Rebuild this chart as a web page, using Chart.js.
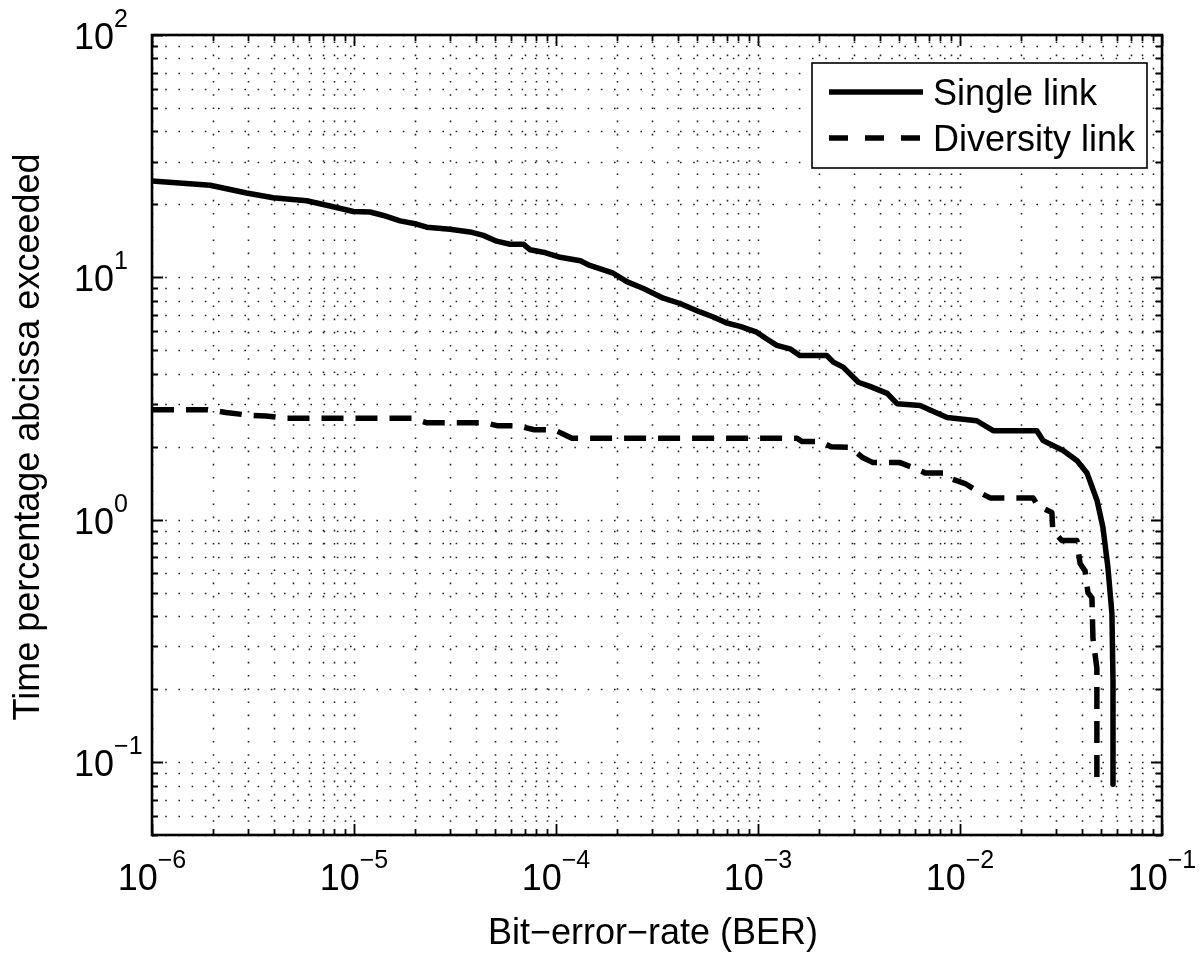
<!DOCTYPE html>
<html>
<head>
<meta charset="utf-8">
<script src="https://cdn.jsdelivr.net/npm/chart.js@4.4.1/dist/chart.umd.min.js"></script>
<style>
  html, body { margin: 0; padding: 0; background: #fff; }
  #wrap { width: 1200px; height: 959px; }
</style>
</head>
<body>
<div id="wrap"><canvas id="berChart"></canvas></div>
<script>
// --- data ---
const seriesNames = ['Single link', 'Diversity link'];

const singleBer = [1e-6, 1.94e-6, 2.94e-6, 3.98e-6, 5.83e-6, 7.61e-6, 9.93e-6, 1.2e-5, 1.4e-5, 1.69e-5,
  2.04e-5, 2.29e-5, 2.99e-5, 3.75e-5, 4.37e-5, 5.08e-5, 5.92e-5, 6.89e-5, 7.43e-5, 8.65e-5,
  1.05e-4, 1.32e-4, 1.47e-4, 1.92e-4, 2.24e-4, 2.71e-4, 3.4e-4, 4.11e-4, 5.16e-4, 6.01e-4,
  7.0e-4, 8.15e-4, 9.86e-4, 1.1e-3, 1.24e-3, 1.44e-3, 1.61e-3, 2.19e-3, 2.36e-3, 2.64e-3,
  3.14e-3, 3.58e-3, 4.36e-3, 4.88e-3, 6.34e-3, 8.63e-3, 1.21e-2, 1.46e-2, 2.4e-2, 2.58e-2,
  3.24e-2, 3.8e-2, 4.25e-2, 4.77e-2, 5.1e-2, 5.4e-2, 5.65e-2, 5.72e-2, 5.72e-2];
const singlePct = [25.0, 24.0, 22.3, 21.3, 20.7, 19.7, 18.7, 18.6, 18.0, 17.1,
  16.6, 16.1, 15.8, 15.4, 14.9, 14.1, 13.7, 13.7, 13.0, 12.7,
  12.1, 11.7, 11.2, 10.4, 9.6, 9.0, 8.2, 7.8, 7.2, 6.86,
  6.48, 6.28, 5.94, 5.58, 5.24, 5.07, 4.76, 4.76, 4.47, 4.26,
  3.69, 3.55, 3.32, 3.01, 2.96, 2.64, 2.56, 2.33, 2.33, 2.12,
  1.93, 1.75, 1.56, 1.2, 0.93, 0.634, 0.41, 0.216, 0.081];

const diversityBer = [1e-6, 1.89e-6, 2.32e-6, 2.99e-6, 3.66e-6, 4.6e-6, 6.8e-6, 1.96e-5, 2.3e-5, 4.45e-5,
  5.16e-5, 6.5e-5, 7.8e-5, 9.8e-5, 1.13e-4, 1.2e-4, 1.56e-3, 1.65e-3, 2.03e-3, 2.3e-3,
  2.85e-3, 3.31e-3, 3.71e-3, 5.05e-3, 5.85e-3, 6.71e-3, 8.24e-3, 8.92e-3, 1.06e-2, 1.26e-2,
  1.41e-2, 2.3e-2, 2.43e-2, 2.85e-2, 2.88e-2, 3.2e-2, 3.79e-2, 3.93e-2, 4.16e-2, 4.3e-2,
  4.5e-2, 4.55e-2, 4.76e-2, 4.76e-2];
const diversityPct = [2.84, 2.84, 2.77, 2.70, 2.68, 2.62, 2.62, 2.62, 2.51, 2.51,
  2.44, 2.44, 2.35, 2.35, 2.22, 2.17, 2.17, 2.10, 2.10, 2.0,
  1.99, 1.80, 1.72, 1.72, 1.64, 1.56, 1.56, 1.48, 1.41, 1.29,
  1.23, 1.23, 1.14, 1.07, 0.90, 0.82, 0.82, 0.66, 0.615, 0.50,
  0.476, 0.325, 0.244, 0.085];

// tick labels are powers of ten, stored as exponents
const xTickExps = [-6, -5, -4, -3, -2, -1];
const yTickExps = [-1, 0, 1, 2];
const xTitle = 'Bit\u2212error\u2212rate (BER)';
const yTitle = 'Time percentage abcissa exceeded';

const FONT = "'Liberation Sans', Arial, Helvetica, sans-serif";

function toPoints(xs, ys) {
  return xs.map((x, i) => ({ x: x, y: ys[i] }));
}

// 1..9 x 10^n between min and max (MATLAB style minor grid)
function logTicks(min, max) {
  const out = [];
  for (let e = Math.floor(Math.log10(min)); e <= Math.ceil(Math.log10(max)); e++) {
    for (let m = 1; m <= 9; m++) {
      const v = m * Math.pow(10, e);
      if (v >= min * 0.9999 && v <= max * 1.0001) out.push({ value: v, major: m === 1 });
    }
  }
  return out;
}

function expText(e) {
  return (e < 0 ? '\u2212' : '') + Math.abs(e);
}

// grid, box, inward ticks, labels, legend - drawn the matlab way
const matlabAxes = {
  id: 'matlabAxes',
  beforeDatasetsDraw(chart) {
    const ctx = chart.ctx;
    const a = chart.chartArea;
    ctx.save();
    ctx.strokeStyle = '#222';
    ctx.lineWidth = 1.6;
    ctx.setLineDash([1.6, 11.6]);
    chart.scales.x.ticks.forEach(t => {
      const x = Math.round(chart.scales.x.getPixelForValue(t.value)) + 0.5;
      ctx.beginPath();
      ctx.moveTo(x, a.bottom);
      ctx.lineTo(x, a.top);
      ctx.stroke();
    });
    chart.scales.y.ticks.forEach(t => {
      const y = Math.round(chart.scales.y.getPixelForValue(t.value)) + 0.5;
      ctx.beginPath();
      ctx.moveTo(a.left, y);
      ctx.lineTo(a.right, y);
      ctx.stroke();
    });
    ctx.restore();
  },
  afterDatasetsDraw(chart) {
    const ctx = chart.ctx;
    const a = chart.chartArea;
    const xs = chart.scales.x;
    const ys = chart.scales.y;
    ctx.save();
    ctx.setLineDash([]);
    ctx.strokeStyle = '#000';
    ctx.fillStyle = '#000';

    // inward ticks on all four sides
    ctx.lineWidth = 1.8;
    xs.ticks.forEach(t => {
      const x = Math.round(xs.getPixelForValue(t.value)) + 0.5;
      const len = t.major ? 11 : 6;
      ctx.beginPath();
      ctx.moveTo(x, a.bottom); ctx.lineTo(x, a.bottom - len);
      ctx.moveTo(x, a.top); ctx.lineTo(x, a.top + len);
      ctx.stroke();
    });
    ys.ticks.forEach(t => {
      const y = Math.round(ys.getPixelForValue(t.value)) + 0.5;
      const len = t.major ? 11 : 6;
      ctx.beginPath();
      ctx.moveTo(a.left, y); ctx.lineTo(a.left + len, y);
      ctx.moveTo(a.right, y); ctx.lineTo(a.right - len, y);
      ctx.stroke();
    });

    // box
    ctx.lineWidth = 2.6;
    ctx.strokeRect(a.left, a.top, a.right - a.left, a.bottom - a.top);

    // x tick labels: 10^e centred under the tick
    const baseFont = '36px ' + FONT;
    const supFont = '25px ' + FONT;
    ctx.textBaseline = 'alphabetic';
    ctx.textAlign = 'left';
    xTickExps.forEach(e => {
      const x = xs.getPixelForValue(Math.pow(10, e));
      ctx.font = baseFont;
      const w10 = ctx.measureText('10').width;
      ctx.font = supFont;
      const we = ctx.measureText(expText(e)).width;
      const left = x - (w10 + we) / 2;
      ctx.font = baseFont;
      ctx.fillText('10', left, 890);
      ctx.font = supFont;
      ctx.fillText(expText(e), left + w10, 868);
    });

    // y tick labels: the "10" starts at the same x on every row
    yTickExps.forEach(e => {
      const y = ys.getPixelForValue(Math.pow(10, e));
      ctx.font = baseFont;
      const w10 = ctx.measureText('10').width;
      ctx.fillText('10', 74, y + 14);
      ctx.font = supFont;
      ctx.fillText(expText(e), 74 + w10, y - 8);
    });

    // axis titles
    ctx.font = '36px ' + FONT;
    ctx.textAlign = 'center';
    ctx.fillText(xTitle, 653, 944);
    ctx.save();
    ctx.translate(39, 437);
    ctx.rotate(-Math.PI / 2);
    ctx.fillText(yTitle, 0, 0);
    ctx.restore();

    // legend box in the upper right
    const lx = 812, ly = 63, lw = 335, lh = 105;
    ctx.fillStyle = '#fff';
    ctx.fillRect(lx, ly, lw, lh);
    ctx.strokeStyle = '#000';
    ctx.lineWidth = 1.6;
    ctx.strokeRect(lx, ly, lw, lh);
    chart.data.datasets.forEach((ds, i) => {
      const yy = ly + 29 + i * 46;
      ctx.strokeStyle = '#000';
      ctx.lineWidth = ds.borderWidth;
      ctx.setLineDash(i === 0 ? [] : [19, 17]);
      ctx.beginPath();
      ctx.moveTo(lx + 17, yy);
      ctx.lineTo(lx + 111, yy);
      ctx.stroke();
      ctx.setLineDash([]);
      ctx.fillStyle = '#000';
      ctx.font = '36px ' + FONT;
      ctx.textAlign = 'left';
      ctx.fillText(ds.label, lx + 121, yy + 13);
    });
    ctx.restore();
  }
};

const ctx = document.getElementById('berChart');

new Chart(ctx, {
  type: 'scatter',
  data: {
    datasets: [
      {
        label: seriesNames[0],
        data: toPoints(singleBer, singlePct),
        showLine: true,
        borderColor: '#000',
        backgroundColor: '#000',
        borderWidth: 5.5,
        pointRadius: 0,
        borderJoinStyle: 'round',
        borderCapStyle: 'round',
        tension: 0
      },
      {
        label: seriesNames[1],
        data: toPoints(diversityBer, diversityPct),
        showLine: true,
        borderColor: '#000',
        backgroundColor: '#000',
        borderWidth: 5.5,
        borderDash: [22, 12],
        pointRadius: 0,
        borderJoinStyle: 'round',
        borderCapStyle: 'butt',
        tension: 0
      }
    ]
  },
  options: {
    responsive: true,
    maintainAspectRatio: false,
    animation: false,
    layout: { padding: { left: 152, right: 38, top: 35, bottom: 124 } },
    plugins: {
      legend: { display: false },
      tooltip: { enabled: false }
    },
    scales: {
      x: {
        type: 'logarithmic',
        min: 1e-6,
        max: 1e-1,
        afterBuildTicks: scale => { scale.ticks = logTicks(1e-6, 1e-1); },
        ticks: { display: false },
        grid: { display: false, drawTicks: false },
        border: { display: false }
      },
      y: {
        type: 'logarithmic',
        min: 0.05,
        max: 100,
        afterBuildTicks: scale => { scale.ticks = logTicks(0.05, 100); },
        ticks: { display: false },
        grid: { display: false, drawTicks: false },
        border: { display: false }
      }
    }
  },
  plugins: [matlabAxes]
});
</script>
</body>
</html>
